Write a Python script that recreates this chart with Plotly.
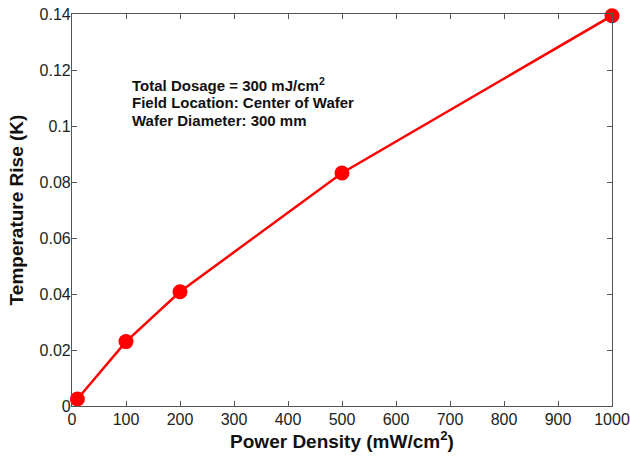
import plotly.graph_objects as go

power_density = [10, 100, 200, 500, 1000]
temperature_rise = [0.0025, 0.023, 0.0408, 0.0832, 0.1394]
x_ticks = [0, 100, 200, 300, 400, 500, 600, 700, 800, 900, 1000]
y_ticks = [0, 0.02, 0.04, 0.06, 0.08, 0.1, 0.12, 0.14]
y_tick_labels = ["0", "0.02", "0.04", "0.06", "0.08", "0.1", "0.12", "0.14"]
note_lines = [
    "Total Dosage = 300 mJ/cm<sup>2</sup>",
    "Field Location: Center of Wafer",
    "Wafer Diameter: 300 mm",
]
note_y = [0.821, 0.775, 0.729]

FONT = "Liberation Sans, Arial, sans-serif"

fig = go.Figure()
fig.add_trace(go.Scatter(
    x=power_density, y=temperature_rise, mode="lines+markers",
    line=dict(color="#ff0000", width=2.5),
    marker=dict(color="#ff0000", size=15),
    showlegend=False, cliponaxis=False,
))

axis_common = dict(
    showline=True, linecolor="#555555", linewidth=1.2, mirror="ticks",
    ticks="inside", ticklen=5, tickcolor="#555555", tickwidth=1.2,
    showgrid=False, zeroline=False, automargin=False, ticklabeloverflow="allow",
    tickfont=dict(family=FONT, size=16, color="#222222"),
)

fig.update_layout(
    width=630, height=457,
    margin=dict(l=72, r=18, t=14, b=51),
    paper_bgcolor="white", plot_bgcolor="white",
    xaxis=dict(range=[0, 1000], tickvals=x_ticks, ticklabelstandoff=-1, **axis_common,
               title=dict(text="<b>Power Density (mW/cm<sup>2</sup>)</b>",
                          font=dict(family=FONT, size=19, color="#111111"), standoff=6)),
    yaxis=dict(range=[0, 0.14], tickvals=y_ticks, ticktext=y_tick_labels, ticklabelstandoff=-3,
               **axis_common,
               title=dict(text="<b>Temperature Rise (K)</b>",
                          font=dict(family=FONT, size=19, color="#111111"), standoff=10)),
)

for line, yy in zip(note_lines, note_y):
    fig.add_annotation(
        xref="paper", yref="paper", x=0.107, y=yy, xanchor="left", yanchor="middle",
        align="left", showarrow=False, text="<b>" + line + "</b>",
        font=dict(family=FONT, size=15, color="#111111"),
    )

fig.write_html("out.html", config={"displayModeBar": False},
               post_script="document.body.style.margin='0';")
